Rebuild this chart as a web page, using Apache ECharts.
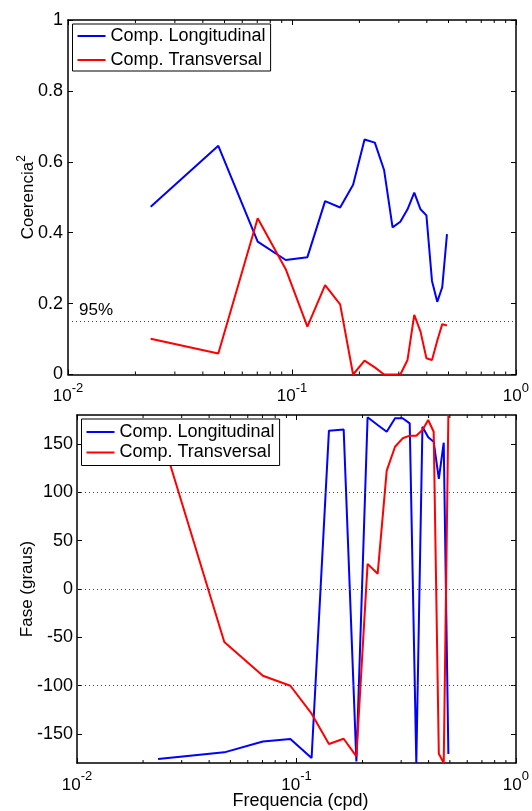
<!DOCTYPE html>
<html><head><meta charset="utf-8">
<script src="https://cdn.jsdelivr.net/npm/echarts@6/dist/echarts.min.js"></script>
<style>html,body{margin:0;padding:0;background:#fff}#c{width:532px;height:811px}</style>
</head><body><div id="c"></div>
<script>
// ---- data ----
const freq = [0.0234,0.0469,0.0703,0.0938,0.1172,0.1406,0.1641,0.1875,0.2109,0.2344,0.2578,0.2813,0.3047,0.3281,0.3516,0.375,0.3984,0.4219,0.4453,0.4688,0.4922];
const cohLong = [0.473,0.645,0.375,0.323,0.331,0.489,0.471,0.535,0.663,0.654,0.577,0.415,0.431,0.466,0.513,0.466,0.449,0.264,0.205,0.246,0.396];
const cohTrans = [0.101,0.059,0.441,0.297,0.135,0.252,0.198,0.0,0.039,0.02,0.0,0.0,0.0,0.041,0.168,0.121,0.046,0.041,0.095,0.142,0.138];
const phaseLong = [-175.9,-169,-157.7,-155.2,-174.8,163.8,164.9,-178.3,177.6,169.7,162.7,176.6,176.6,171.4,-180,167.9,157,152.4,113.9,151.4,-170.7];
const phaseTrans = [170,-54.9,-89.7,-100.1,-129,-160.4,-154.9,-173.2,26,15.7,122.5,147.2,155.9,158.6,158.6,164.5,174.8,162.7,-170.4,-180,180];
const sig95 = 0.151;
const phaseRefLines = [100, 0, -100];
const phaseTicks = [-150,-100,-50,0,50,100,150];
const minorFreqTicks = [0.02,0.03,0.04,0.05,0.06,0.07,0.08,0.09,0.2,0.3,0.4,0.5,0.6,0.7,0.8,0.9];
const seriesNames = ['Comp. Longitudinal','Comp. Transversal'];

// ---- chart ----
const FONT = "'Liberation Sans', Arial, Helvetica, sans-serif";
const BLUE = '#0000ff', RED = '#ff0000';
const chart = echarts.init(document.getElementById('c'), null, {renderer:'canvas'});
const pair = ys => freq.map((f,i) => [f, ys[i]]);
const supRich = {
  b:{fontSize:17, lineHeight:30, fontFamily:FONT, color:'#000'},
  s:{fontSize:13, lineHeight:13, verticalAlign:'top', fontFamily:FONT, color:'#000'}
};
const logFmt = v => '{b|10}{s|' + Math.round(Math.log10(v)) + '}';
const axLine = {show:true, onZero:false, lineStyle:{color:'#000', width:1.5}};
const tick = {show:true, inside:true, length:5, lineStyle:{color:'#000', width:1}};

function xAx(grid, pos, labels, extra) {
  return Object.assign({
    type:'log', logBase:10, gridIndex:grid, position:pos, min:0.01, max:1,
    axisLine:axLine, axisTick:tick, splitLine:{show:false}, minorTick:{show:false},
    nameMoveOverlap:false,
    axisLabel: labels ? {show:true, formatter:logFmt, rich:supRich, margin:7} : {show:false}
  }, extra || {});
}
function yAx(grid, pos, labels, extra) {
  return Object.assign({
    type:'value', gridIndex:grid, position:pos,
    axisLine:axLine, axisTick:tick, splitLine:{show:false},
    nameMoveOverlap:false,
    axisLabel: labels ? {show:true, margin:5, fontSize:18, fontFamily:FONT, color:'#000'} : {show:false}
  }, extra || {});
}
function minorTicks(xi, yi) {
  return {
    type:'custom', xAxisIndex:xi, yAxisIndex:yi, silent:true, clip:false, z:5,
    data: minorFreqTicks.map(v => [v, 0]),
    renderItem: (params, api) => {
      const cs = params.coordSys;
      const x = api.coord([api.value(0), api.value(1)])[0];
      const st = {stroke:'#000', lineWidth:1};
      return {type:'group', children:[
        {type:'line', shape:{x1:x, y1:cs.y+cs.height, x2:x, y2:cs.y+cs.height-3}, style:st},
        {type:'line', shape:{x1:x, y1:cs.y, x2:x, y2:cs.y+3}, style:st}
      ]};
    }
  };
}
function legendAt(left, top, pad, gap) {
  return {
    data:seriesNames, left:left, top:top, orient:'vertical', icon:'rect',
    itemWidth:28, itemHeight:2, itemGap:gap, padding:pad,
    borderColor:'#000', borderWidth:1, backgroundColor:'#fff', borderRadius:0,
    selectedMode:false,
    textStyle:{fontSize:18, fontFamily:FONT, color:'#000', lineHeight:18}
  };
}

const option = {
  animation:false,
  backgroundColor:'#fff',
  grid:[
    {left:68, top:20, width:450, height:354.5},
    {left:77, top:415, width:441.5, height:348.3}
  ],
  legend:[ legendAt(72.5, 24, [3,5,2,5], 6), legendAt(81.5, 419, [4,5,4,5], 2.5) ],
  xAxis:[
    xAx(0,'bottom',true),
    xAx(0,'top',false),
    xAx(1,'bottom',true,{name:'Frequencia (cpd)', nameLocation:'middle', nameGap:29,
      nameTextStyle:{fontSize:18, fontFamily:FONT, color:'#000', padding:[0,0,0,8]}}),
    xAx(1,'top',false)
  ],
  yAxis:[
    yAx(0,'left',true,{min:0, max:1, interval:0.2, name:'{a|Coerencia}{s|2}', nameLocation:'middle',
      nameRotate:90, nameGap:28,
      nameTextStyle:{rich:{a:{fontSize:17, fontFamily:FONT, color:'#000', lineHeight:24},
                           s:{fontSize:12, fontFamily:FONT, color:'#000', lineHeight:12, verticalAlign:'top'}}}}),
    yAx(0,'right',false,{min:0, max:1, interval:0.2}),
    yAx(1,'left',true,{min:-180, max:180, name:'Fase (graus)', nameLocation:'middle', nameRotate:90, nameGap:41,
      nameTextStyle:{fontSize:17, fontFamily:FONT, color:'#000'},
      axisTick:Object.assign({}, tick, {customValues:phaseTicks}),
      axisLabel:{show:true, margin:4, fontSize:18, fontFamily:FONT, color:'#000', customValues:phaseTicks}}),
    yAx(1,'right',false,{min:-180, max:180, axisTick:Object.assign({}, tick, {customValues:phaseTicks})})
  ],
  series:[
    {name:seriesNames[0], type:'line', xAxisIndex:0, yAxisIndex:0, data:pair(cohLong), symbol:'none',
     color:BLUE, lineStyle:{color:BLUE, width:2}, z:3},
    {name:seriesNames[1], type:'line', xAxisIndex:0, yAxisIndex:0, data:pair(cohTrans), symbol:'none',
     color:RED, lineStyle:{color:RED, width:2}, z:3,
     markLine:{silent:true, symbol:'none', animation:false,
       lineStyle:{type:[1,3], color:'#444', width:1},
       label:{show:true, position:'insideStartTop', formatter:'95%', color:'#000', fontSize:17,
              fontFamily:FONT, distance:3, padding:[0,0,0,8]},
       data:[{yAxis:sig95}]}},
    {name:seriesNames[0], type:'line', xAxisIndex:2, yAxisIndex:2, data:pair(phaseLong), symbol:'none',
     color:BLUE, lineStyle:{color:BLUE, width:2}, z:3},
    {name:seriesNames[1], type:'line', xAxisIndex:2, yAxisIndex:2, data:pair(phaseTrans), symbol:'none',
     color:RED, lineStyle:{color:RED, width:2}, z:3,
     markLine:{silent:true, symbol:'none', animation:false,
       lineStyle:{type:[1,3], color:'#444', width:1},
       label:{show:false},
       data:phaseRefLines.map(v => ({yAxis:v}))}},
    minorTicks(0,0),
    minorTicks(2,2)
  ]
};
chart.setOption(option);
</script>
</body></html>
